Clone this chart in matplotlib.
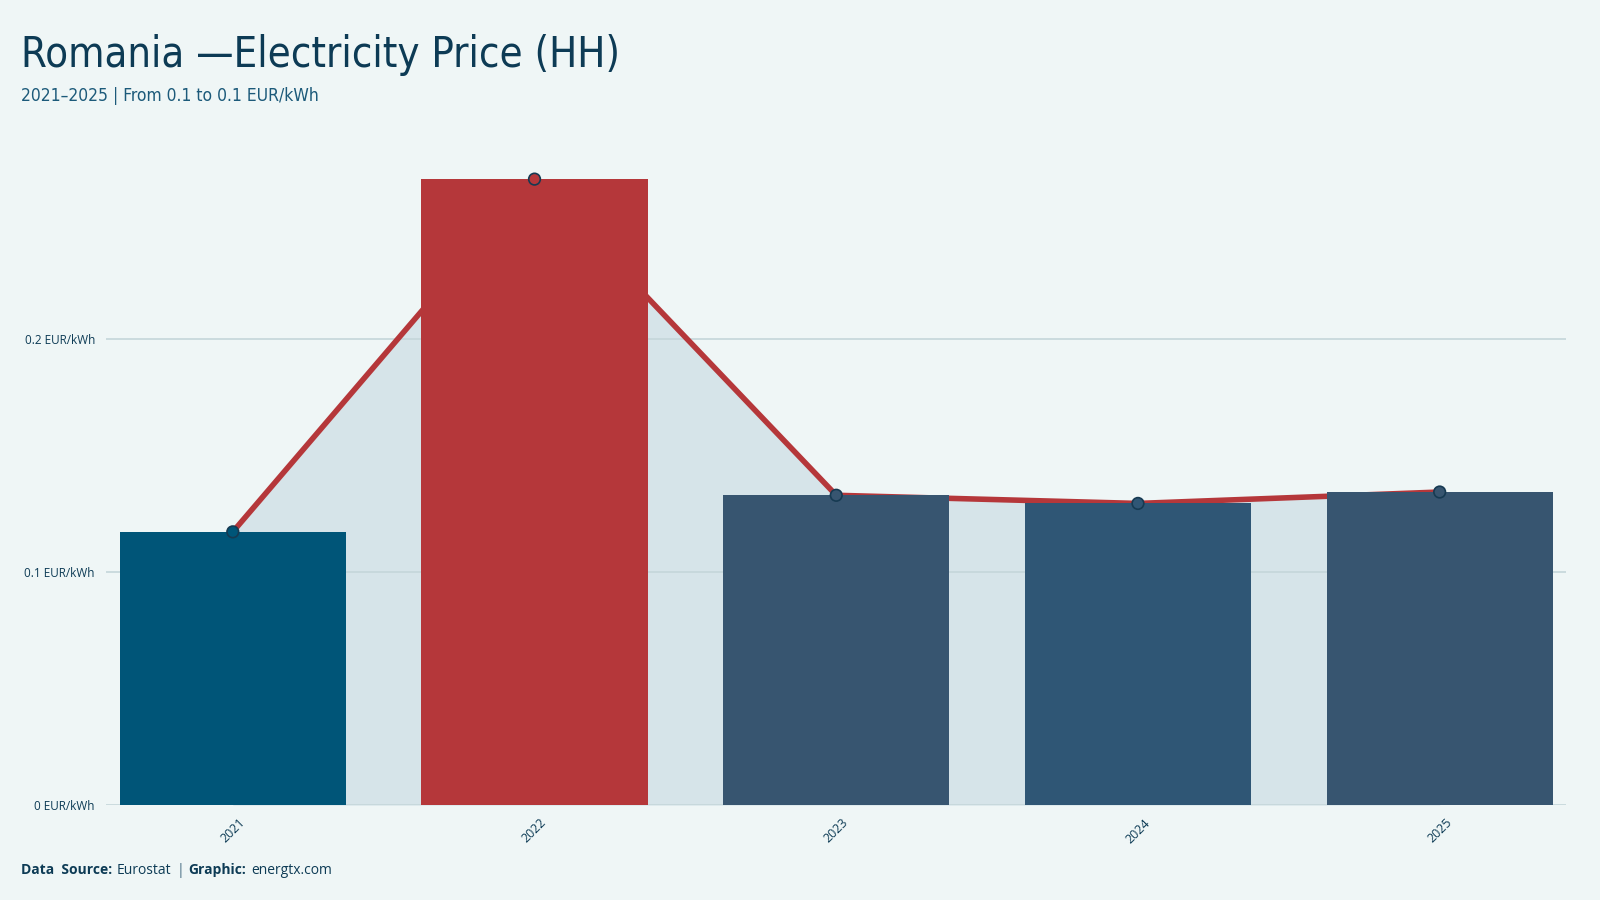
import numpy as np
import matplotlib.pyplot as plt
from matplotlib import font_manager

# data
years = ['2021', '2022', '2023', '2024', '2025']
prices = [0.1173, 0.2687, 0.1330, 0.1295, 0.1344]
bar_colors = ['#005578', '#b5373a', '#375570', '#2f5675', '#375570']
y_ticks = [0, 0.1, 0.2]
y_tick_labels = ['0 EUR/kWh', '0.1 EUR/kWh', '0.2 EUR/kWh']

bg = '#eff6f6'
navy = '#0d3b55'
red = '#b5373a'

# condensed face for the headline (reference uses a condensed sans)
cond = [f for f in font_manager.fontManager.ttflist
        if ('Condensed' in f.name or 'Narrow' in f.name
            or str(f.stretch) in ('condensed', 'semi-condensed', '87.5', '75'))
        and f.weight in (400, 'normal', 'regular')]
if cond:
    title_kw = dict(family=cond[0].name, stretch=cond[0].stretch)
else:
    title_kw = dict(family='Roboto')
plt.rcParams['font.family'] = ['Open Sans', 'DejaVu Sans']

fig = plt.figure(figsize=(16, 9), dpi=100, facecolor=bg)
ax = fig.add_axes([0.0663, 0.1054, 0.9127, 0.73])
ax.set_facecolor(bg)

x = np.arange(len(years))

# shaded area under the trend line
ax.fill_between(x, prices, 0, color='#d6e4e9', zorder=1, linewidth=0)
ax.set_yticks(y_ticks)
ax.yaxis.grid(True, color='#c4d6da', linewidth=1.2)
for gl in ax.get_ygridlines():
    gl.set_zorder(1.5)

ax.plot(x, prices, color=red, linewidth=4, zorder=2, solid_capstyle='round')
ax.bar(x, prices, width=0.75, color=bar_colors, zorder=3)
ax.scatter(x, prices, s=70, c=bar_colors, edgecolors='#163a52', linewidths=1.2, zorder=4)

ax.set_xlim(-0.42, 4.42)
ax.set_ylim(0, 0.282)
ax.set_xticks(x)
ax.set_xticklabels(years, rotation=45, fontsize=9, color=navy)
ax.set_yticklabels(y_tick_labels, fontsize=8.5, color=navy)
ax.tick_params(length=0, pad=8)
for sp in ax.spines.values():
    sp.set_visible(False)

fig.text(0.013, 0.925, 'Romania \u2014Electricity Price (HH)', fontsize=30,
         color=navy, va='baseline', **title_kw)
fig.text(0.013, 0.888, '2021\u20132025 | From 0.1 to 0.1 EUR/kWh', fontsize=12.5,
         color='#1c5a7a', va='baseline', **title_kw)

# footer
t = fig.text(0.013, 0.029, 'Data  Source:', fontsize=10, fontweight='bold', color=navy)
fig.canvas.draw()
r = fig.canvas.get_renderer()
def after(prev, s, **kw):
    bb = prev.get_window_extent(r)
    x0 = bb.x1 / fig.bbox.width + 0.003
    return fig.text(x0, 0.029, s, fontsize=10, color=navy, **kw)
t = after(t, 'Eurostat')
t = after(t, '|')
t.set_color('#4a6f86')
t = after(t, 'Graphic:', fontweight='bold')
t = after(t, 'energtx.com')

fig.savefig('out.png', dpi=100, facecolor=bg)
